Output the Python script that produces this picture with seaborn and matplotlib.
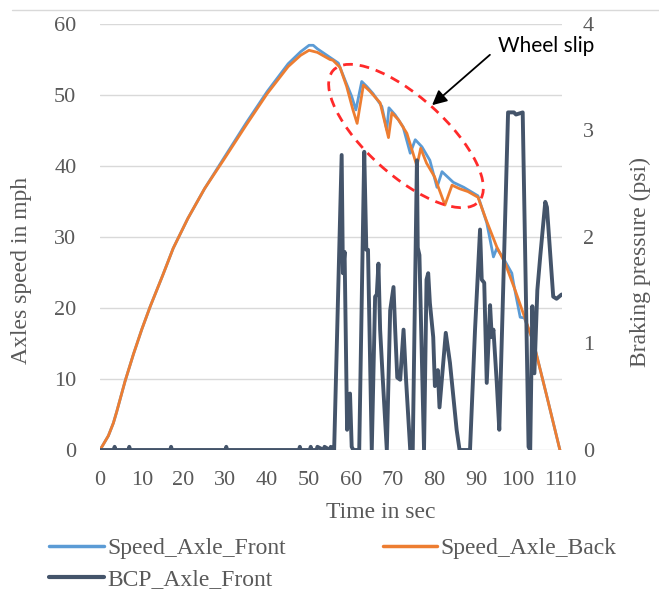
import matplotlib
matplotlib.use("Agg")
import matplotlib.pyplot as plt
from matplotlib.lines import Line2D
from matplotlib.patches import Ellipse
import numpy as np
import pandas as pd
import seaborn as sns

# speed of the back axle (mph)
t_back = [0, 2, 3.2, 4, 6, 8, 10, 12, 15, 17.5, 21, 25, 29.5, 35, 40, 45, 48,
          50, 52, 55, 55.7, 57.4, 59, 60.5, 61.5, 63, 64.6, 67, 69, 69.8, 71.4,
          73.4, 75.8, 76.7, 78.1, 80, 82.5, 84.2, 86, 88, 90.4, 92.5, 94.9,
          96.9, 99.3, 101.5, 103.7, 106.9, 110]
v_back = [0, 2, 3.8, 5.4, 9.7, 13.5, 17, 20.2, 24.6, 28.4, 32.6, 36.8, 40.8,
          45.8, 50.2, 54, 55.6, 56.3, 56, 55, 54.9, 53.9, 51.2, 47.9, 46, 51.4,
          50.5, 48.9, 44, 47.5, 46.5, 44.6, 40, 42.5, 40.4, 38.5, 34.5, 37.3,
          36.8, 36.4, 35.6, 32.2, 28.6, 26.3, 22.5, 18.8, 15.1, 7.5, 0]

# speed of the front axle (mph)
t_front = [0, 2, 3.2, 4, 6, 8, 10, 12, 15, 17.5, 21, 25, 29.5, 35, 40, 45, 48,
           50, 51, 52, 55, 57, 58.6, 60.2, 61.2, 62.6, 63.8, 65.3, 67.4, 68.6,
           69.1, 70.6, 72.5, 74.2, 75.4, 77, 78.9, 80.6, 81.8, 84.5, 87, 90.4,
           92.5, 94.1, 94.9, 96.5, 98.5, 98.9, 100.5, 101.5, 103.7, 106.9, 110]
v_front = [0, 2, 3.8, 5.4, 9.7, 13.5, 17, 20.2, 24.6, 28.4, 32.6, 36.8, 41,
           46.1, 50.5, 54.4, 56.1, 57, 57, 56.5, 55.3, 54.5, 52.1, 49.8, 47.9,
           51.9, 51.2, 50.2, 48.4, 45.1, 48.2, 47.2, 45.5, 41.8, 43.7, 42.7,
           40.8, 37, 39.2, 37.7, 37, 35.8, 32, 27.2, 28.4, 27, 24.9, 23.5, 18.7,
           18.6, 15.1, 7.5, 0]

# brake cylinder pressure on the front axle (psi)
t_bcp = [0, 3.3, 3.5, 3.7, 6.8, 7, 7.2, 16.8, 17, 17.2, 30, 30.2, 30.4, 47.6,
         47.8, 48, 50.2, 50.4, 50.6, 51.8, 52, 53.5, 53.7, 55, 55.2, 56, 57.8,
         58.1, 58.5, 59.1, 59.8, 60.2, 60.6, 62, 63.2, 63.7, 64.1, 65, 65.8,
         66.2, 66.6, 67, 67.6, 68.6, 69.4, 70.2, 70.6, 71.1, 71.8, 72.6, 73.2,
         74.2, 74.8, 75.8, 76, 76.4, 77.5, 78.1, 78.5, 78.9, 79.7, 80.1, 80.8,
         81.2, 82.7, 83.7, 85.3, 86, 88.5, 89.7, 90.9, 91.3, 91.9, 92.5, 93.3,
         93.7, 94.1, 94.9, 95.5, 97.6, 99, 99.5, 101.1, 102.5, 102.9, 103.4,
         103.9, 104.6, 105.3, 106.5, 106.9, 108.4, 109.2, 110.4]
p_bcp = [0, 0, 0.03, 0, 0, 0.03, 0, 0, 0.03, 0, 0, 0.03, 0, 0, 0.03, 0, 0,
         0.03, 0, 0, 0.03, 0, 0.03, 0, 0.03, 0, 2.77, 1.66, 1.86, 0.19, 0.53,
         0.03, 0, 0, 2.8, 1.88, 1.88, 0, 1.44, 1.46, 1.75, 1.13, 0.69, 0, 1.31,
         1.53, 1.13, 0.68, 0.66, 1.13, 0.66, 0, 0, 2.72, 1.9, 1.83, 0, 1.6, 1.66,
         1.38, 1.06, 0.6, 0.75, 0.4, 1.1, 0.82, 0.19, 0, 0, 1.13, 2.07, 1.6,
         1.57, 0.63, 1.36, 1.06, 1.13, 0.63, 0.19, 3.17, 3.17, 3.15, 3.17, 0.03,
         0, 1.35, 0.72, 1.5, 1.82, 2.33, 2.28, 1.44, 1.42, 1.46]

x_ticks = list(range(0, 111, 10))
left_ticks = list(range(0, 61, 10))
right_ticks = [0, 1, 2, 3, 4]

BLUE = "#5B9BD5"
ORANGE = "#ED7D31"
NAVY = "#44546A"
GREY = "#595959"
SERIF = "Liberation Serif"

speed = pd.concat([
    pd.DataFrame({"t": t_front, "v": v_front, "series": "Speed_Axle_Front"}),
    pd.DataFrame({"t": t_back, "v": v_back, "series": "Speed_Axle_Back"}),
])
bcp = pd.DataFrame({"t": t_bcp, "p": p_bcp})

sns.set_theme(style="white")
plt.rcParams["font.family"] = [SERIF, "DejaVu Serif"]

fig = plt.figure(figsize=(6.59, 5.91), dpi=100)
ax = fig.add_axes([100 / 659, 1 - 450 / 591, 462 / 659, 426 / 591])
ax2 = ax.twinx()

ax.yaxis.grid(True, color="#d9d9d9", lw=1)
sns.lineplot(data=speed, x="t", y="v", hue="series", sort=False,
             palette={"Speed_Axle_Front": BLUE, "Speed_Axle_Back": ORANGE},
             lw=2, ax=ax, legend=False, estimator=None)
sns.lineplot(data=bcp, x="t", y="p", color=NAVY, lw=2.8, ax=ax2,
             legend=False, estimator=None, sort=False)

ax.set_xlim(0, 110.5)
ax.set_ylim(0, 60)
ax2.set_ylim(0, 4)
ax.set_xticks(x_ticks)
ax.set_yticks(left_ticks)
ax2.set_yticks(right_ticks)
ax.set_xlabel("")
ax.set_ylabel("")
ax2.set_ylabel("")
for a in (ax, ax2):
    for s in a.spines.values():
        s.set_visible(False)
    a.tick_params(length=0, labelsize=16, colors=GREY)
ax.tick_params(axis="y", pad=17)
ax.tick_params(axis="x", pad=15)
ax2.tick_params(axis="y", pad=15)

fig.text(22 / 659, 1 - 270 / 591, "Axles speed in mph", rotation=90,
         ha="center", va="center", fontsize=17, color=GREY)
fig.text(640 / 659, 1 - 262 / 591, "Braking pressure (psi)", rotation=90,
         ha="center", va="center", fontsize=17, color=GREY)
fig.text(381 / 659, 1 - 513 / 591, "Time in sec", ha="center", va="center",
         fontsize=17, color=GREY)

# wheel slip annotation
ell = Ellipse((4.06, 4.55), 1.96, 0.78, angle=-42, transform=fig.dpi_scale_trans,
              fill=False, ec="#FF2A2A", lw=2, ls=(0, (3.5, 2.5)))
fig.add_artist(ell)
ax.annotate("", xy=(430, 591 - 107), xytext=(492, 591 - 53),
            xycoords="figure pixels", textcoords="figure pixels",
            arrowprops=dict(arrowstyle="-|>", color="black", lw=1.3,
                            mutation_scale=22))
fig.text(498 / 659, 1 - 46 / 591, "Wheel slip", ha="left", va="center",
         fontsize=15, color="black", family=["Lato", "DejaVu Sans"])

fig.add_artist(Line2D([12 / 659, 1], [1 - 10 / 591, 1 - 10 / 591],
                      transform=fig.transFigure, color="#d9d9d9", lw=1))

handles = [Line2D([], [], color=BLUE, lw=2.5),
           Line2D([], [], color=NAVY, lw=3),
           Line2D([], [], color=ORANGE, lw=2.5)]
labels = ["Speed_Axle_Front", "BCP_Axle_Front", "Speed_Axle_Back"]
leg = fig.legend(handles, labels, ncol=2, loc="upper left",
                 bbox_to_anchor=(40 / 659, 1 - 528 / 591), frameon=False,
                 fontsize=17, handlelength=2.3, handletextpad=0.15,
                 columnspacing=4.1, labelspacing=0.4, borderaxespad=0)
for txt in leg.get_texts():
    txt.set_color(GREY)

fig.savefig("out.png", dpi=100)
